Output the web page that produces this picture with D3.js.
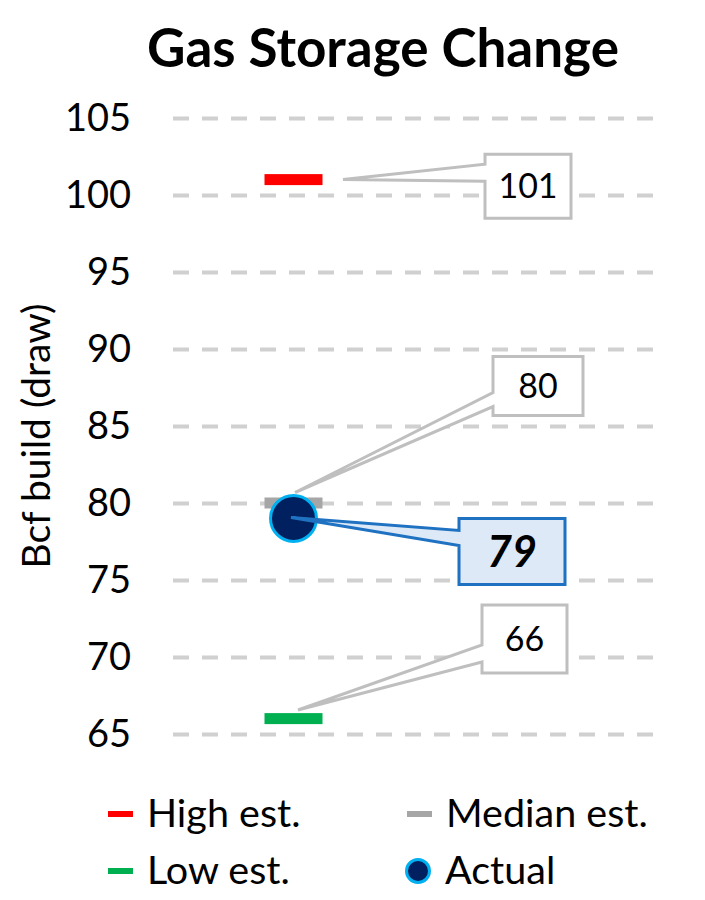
<!DOCTYPE html>
<html>
<head>
<meta charset="utf-8">
<script src="https://cdn.jsdelivr.net/npm/d3@7"></script>
<style>
  body { margin: 0; background: #fff; }
  svg { display: block; font-family: Lato, "Open Sans", sans-serif; }
</style>
</head>
<body>
<div id="chart"></div>
<script>
// donnees du graphique
const seriesNames = ["High est.", "Median est.", "Low est.", "Actual"];
const seriesValues = [101, 80, 66, 79];
const tickValues = [65, 70, 75, 80, 85, 90, 95, 100, 105];
const chartTitle = "Gas Storage Change";
const yTitle = "Bcf build (draw)";

// styles / positions (pas des donnees)
const colors = { "High est.": "#ff0000", "Median est.": "#a6a6a6", "Low est.": "#00b050", "Actual": "#002060" };
// boites des etiquettes, en px relatif au point
const callouts = {
  "High est.":   { dx: 191.5, dy: -25.4,  w: 86,  h: 64, tx: 49.5, ty: 0,    b1: 10, b2: 27 },
  "Median est.": { dx: 199.5, dy: -146.5, w: 90,  h: 59, tx: 1.5,  ty: -10.5, b1: 36, b2: 50 },
  "Low est.":    { dx: 188.5, dy: -113.6, w: 85,  h: 68, tx: 4.5,  ty: -8.6, b1: 40, b2: 57 },
  "Actual":      { dx: 165.5, dy: 0.1,    w: 106, h: 66, tx: -2.5, ty: -1,   b1: 12, b2: 27 }
};

const width = 705, height = 900;
const svg = d3.select("#chart").append("svg")
  .attr("width", width)
  .attr("height", height);

const y = d3.scaleLinear().domain([65, 105]).range([734, 118]);
const x = d3.scaleLinear().domain([0, 1]).range([173, 655]);
const xPos = 0.25;

// titre
svg.append("text")
  .attr("x", 383).attr("y", 67)
  .attr("text-anchor", "middle")
  .attr("font-weight", "bold")
  .attr("font-size", 53)
  .text(chartTitle);

// grille
svg.append("g")
  .attr("transform", "translate(173,0)")
  .call(d3.axisLeft(y).tickValues(tickValues).tickSize(-(655 - 173)).tickFormat(""))
  .call(g => g.select(".domain").remove())
  .call(g => g.selectAll("line")
    .attr("stroke", "#d0d0d0")
    .attr("stroke-width", 4)
    .attr("stroke-dasharray", "16,13"));

// etiquettes de l'axe
svg.append("g")
  .attr("transform", "translate(173,0)")
  .call(d3.axisLeft(y).tickValues(tickValues).tickSize(0).tickPadding(42))
  .call(g => g.select(".domain").remove())
  .call(g => g.selectAll("text")
    .attr("font-family", "Lato, sans-serif")
    .attr("font-size", 38)
    .attr("fill", "#000"));

// titre axe y
svg.append("text")
  .attr("transform", "translate(36,436) rotate(-90)")
  .attr("text-anchor", "middle")
  .attr("dy", "0.35em")
  .attr("font-size", 39)
  .text(yTitle);

let points = seriesNames.map((n, i) => ({ name: n, value: seriesValues[i] }));

// marqueurs tirets
svg.selectAll("rect.est")
  .data(points.filter(d => d.name != "Actual"))
  .enter().append("rect")
  .attr("class", "est")
  .attr("x", x(xPos) - 29)
  .attr("y", d => y(d.value) - 5.5)
  .attr("width", 58)
  .attr("height", 11)
  .attr("fill", d => colors[d.name]);

// point reel
svg.selectAll("circle.actual")
  .data(points.filter(d => d.name == "Actual"))
  .enter().append("circle")
  .attr("class", "actual")
  .attr("cx", x(xPos))
  .attr("cy", d => y(d.value))
  .attr("r", 23)
  .attr("fill", colors["Actual"])
  .attr("stroke", "#00b0f0")
  .attr("stroke-width", 3);

// bulles
function calloutPath(d) {
  const c = callouts[d.name];
  const px = x(xPos), py = y(d.value);
  const bx = px + c.dx, by = py + c.dy;
  return "M" + bx + "," + by +
    "H" + (bx + c.w) + "V" + (by + c.h) + "H" + bx +
    "V" + (by + c.b2) + "L" + (px + c.tx) + "," + (py + c.ty) +
    "L" + bx + "," + (by + c.b1) + "Z";
}

let bulles = svg.selectAll("g.callout")
  .data(points)
  .enter().append("g")
  .attr("class", "callout");

bulles.append("path")
  .attr("d", calloutPath)
  .attr("fill", d => d.name == "Actual" ? "#dde9f6" : "#fff")
  .attr("stroke", d => d.name == "Actual" ? "#1f71c1" : "#bfbfbf")
  .attr("stroke-width", 3)
  .attr("stroke-linejoin", "miter");

bulles.append("text")
  .attr("x", d => x(xPos) + callouts[d.name].dx + callouts[d.name].w / 2)
  .attr("y", d => y(d.value) + callouts[d.name].dy + callouts[d.name].h / 2)
  .attr("dy", "0.36em")
  .attr("text-anchor", "middle")
  .attr("font-size", d => d.name == "Actual" ? 43 : 34)
  .attr("font-weight", d => d.name == "Actual" ? "bold" : "normal")
  .attr("font-style", d => d.name == "Actual" ? "italic" : "normal")
  .text(d => d.value);

// legende
const legPos = [[108, 814], [407, 814], [108, 871], [407, 871]];
let leg = svg.selectAll("g.legend")
  .data(points)
  .enter().append("g")
  .attr("class", "legend")
  .attr("transform", (d, i) => "translate(" + legPos[i][0] + "," + legPos[i][1] + ")");

leg.filter(d => d.name != "Actual").append("rect")
  .attr("x", 0).attr("y", -3)
  .attr("width", 25).attr("height", 6)
  .attr("fill", d => colors[d.name]);

leg.filter(d => d.name == "Actual").append("circle")
  .attr("cx", 11).attr("cy", 0).attr("r", 11.5)
  .attr("fill", colors["Actual"])
  .attr("stroke", "#00b0f0")
  .attr("stroke-width", 3);

leg.append("text")
  .attr("x", d => d.name == "Actual" ? 38 : 39)
  .attr("y", 13)
  .attr("font-size", 39.5)
  .text(d => d.name);
</script>
</body>
</html>
